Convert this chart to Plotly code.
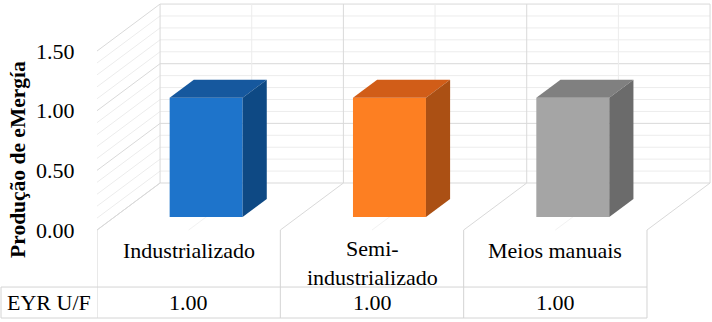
import plotly.graph_objects as go

# ---------------- data ----------------
categories = ["Industrializado", "Semi-industrializado", "Meios manuais"]
category_labels = ["Industrializado", "Semi-<br>industrializado", "Meios manuais"]
values = [1.00, 1.00, 1.00]
table_row_label = "EYR U/F"
y_ticks = [0.0, 0.5, 1.0, 1.5]
y_minor_step = 0.1
axis_title = "Produção de eMergía"

front_colors = ["#1e74cb", "#fd7f22", "#a5a5a5"]
top_colors = ["#16589e", "#d15d18", "#808080"]
side_colors = ["#0e4984", "#ab5014", "#6b6b6b"]

# ---------------- geometry (3D look) ----------------
DX, DY = 0.344, 0.394          # depth offset of back wall in axis units
X0, X1 = -0.5, len(categories) - 0.5
YMAX = y_ticks[-1]
BAR_W = 0.398                   # front face width
BAR_F = 0.277                   # front of bar as fraction of depth
BAR_D = 0.383                   # bar depth as fraction of depth
ROW1, ROW2 = -0.478, -0.7376    # table row bottoms
PLOT_L = 97
PLOT_W = 712 - PLOT_L
XR = [X0, X0 + PLOT_W / 183.33]
YR = [-0.771, 1.928]
PX_PER_Y = 322 / (YR[1] - YR[0])

MAJOR = "#d9d9d9"
MINOR = "#ececec"
FAINT = "#f2f2f2"
TABLE = "#d4d4d4"

shapes = []

def line(x0, y0, x1, y1, color, xref="x"):
    shapes.append(dict(type="line", xref=xref, yref="y", x0=x0, y0=y0, x1=x1, y1=y1,
                       line=dict(color=color, width=1), layer="below"))

n_minor = int(round(YMAX / y_minor_step))
levels = [round(i * y_minor_step, 2) for i in range(n_minor + 1)]
for t in levels:
    c = MAJOR if any(abs(t - m) < 1e-9 for m in y_ticks) else MINOR
    line(X0 + DX, t + DY, X1 + DX, t + DY, c)      # back wall horizontal
    line(X0, t, X0 + DX, t + DY, c)                # left side wall diagonal

n_half = 2 * len(categories)
for k in range(n_half + 1):
    xk = X0 + 0.5 * k
    c = MAJOR if k % 2 == 0 else MINOR
    line(xk + DX, DY, xk + DX, YMAX + DY, c)        # back wall vertical
    line(xk, 0, xk + DX, DY, MAJOR if k % 2 == 0 else FAINT)  # floor diagonal

# data table lines
for k in range(len(categories) + 1):
    line(X0 + k, 0, X0 + k, ROW2, TABLE)
left_paper = -PLOT_L / PLOT_W + 1.0 / PLOT_W
right_paper = (X1 - XR[0]) / (XR[1] - XR[0])
for yy in (ROW1, ROW2):
    shapes.append(dict(type="line", xref="paper", yref="y", x0=left_paper, x1=right_paper,
                       y0=yy, y1=yy, line=dict(color=TABLE, width=1), layer="below"))
shapes.append(dict(type="line", xref="paper", yref="y", x0=left_paper, x1=left_paper,
                   y0=ROW1, y1=ROW2, line=dict(color=TABLE, width=1), layer="below"))

fig = go.Figure()

base = BAR_F * DY
xs = [i + BAR_F * DX for i in range(len(categories))]
fig.add_trace(go.Bar(x=xs, y=values, base=base, width=BAR_W,
                     marker=dict(color=front_colors, line=dict(width=0)),
                     hoverinfo="skip", showlegend=False))

ddx, ddy = BAR_D * DX, BAR_D * DY
for i, v in enumerate(values):
    xl = xs[i] - BAR_W / 2
    xr = xs[i] + BAR_W / 2
    yt = v + base
    fig.add_trace(go.Scatter(
        x=[xl, xr, xr + ddx, xl + ddx, xl], y=[yt, yt, yt + ddy, yt + ddy, yt],
        fill="toself", fillcolor=top_colors[i], mode="lines", line=dict(width=0),
        hoverinfo="skip", showlegend=False))
    fig.add_trace(go.Scatter(
        x=[xr, xr, xr + ddx, xr + ddx, xr], y=[base, yt, yt + ddy, base + ddy, base],
        fill="toself", fillcolor=side_colors[i], mode="lines", line=dict(width=0),
        hoverinfo="skip", showlegend=False))

FONT = "'Times New Roman', 'Liberation Serif', serif"
FS = 22
LABEL_TOP_PX = 20.0   # first label line centre, px below the floor front edge
annotations = []
for i, lab in enumerate(category_labels):
    n_lines = lab.count("<br>") + 1
    centre_px = LABEL_TOP_PX + (n_lines - 1) * 12.5
    annotations.append(dict(x=i, y=-centre_px / PX_PER_Y, xref="x", yref="y", text=lab,
                            showarrow=False, xanchor="center", yanchor="middle",
                            font=dict(family=FONT, size=FS, color="#000000")))
    annotations.append(dict(x=i, y=(ROW1 + ROW2) / 2, xref="x", yref="y", text=f"{values[i]:.2f}",
                            showarrow=False, xanchor="center", yanchor="middle",
                            font=dict(family=FONT, size=FS, color="#000000")))
annotations.append(dict(x=(48.5 - PLOT_L) / PLOT_W, y=(ROW1 + ROW2) / 2, xref="paper", yref="y",
                        text=table_row_label, showarrow=False, xanchor="center", yanchor="middle",
                        font=dict(family=FONT, size=FS, color="#000000")))
annotations.append(dict(x=(18.5 - PLOT_L) / PLOT_W, y=0.505, xref="paper", yref="paper",
                        text=f"<b>{axis_title}</b>", showarrow=False, textangle=-90,
                        xanchor="center", yanchor="middle",
                        font=dict(family=FONT, size=21.5, color="#000000")))

fig.update_layout(
    width=712, height=322,
    margin=dict(l=PLOT_L, r=0, t=0, b=0),
    paper_bgcolor="white", plot_bgcolor="white",
    showlegend=False,
    shapes=shapes, annotations=annotations,
    xaxis=dict(range=XR, visible=False, fixedrange=True),
    yaxis=dict(range=YR, tickvals=y_ticks, ticktext=[f"{t:.2f}" for t in y_ticks],
               ticks="outside", ticklen=17, tickcolor="rgba(0,0,0,0)",
               showgrid=False, zeroline=False, showline=False,
               tickfont=dict(family=FONT, size=FS, color="#000000"), fixedrange=True),
)

fig.write_html("out.html", config={"displayModeBar": False},
               post_script="document.body.style.margin='0px';")
